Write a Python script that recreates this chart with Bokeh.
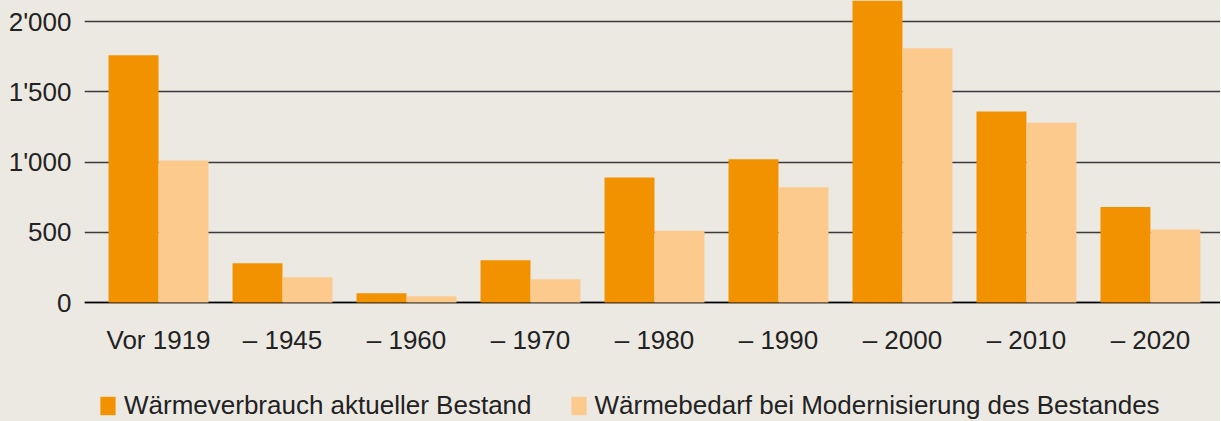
from bokeh.plotting import figure
from bokeh.models import FixedTicker, Legend, LegendItem, Span
from bokeh.layouts import column
from bokeh.embed import file_html
from bokeh.resources import INLINE

categories = ["Vor 1919", "– 1945", "– 1960", "– 1970", "– 1980", "– 1990", "– 2000", "– 2010", "– 2020"]
verbrauch = [1760, 280, 65, 300, 890, 1020, 2250, 1360, 680]
bedarf = [1010, 180, 45, 165, 510, 820, 1810, 1280, 520]
y_ticks = [0, 500, 1000, 1500, 2000]
y_tick_labels = ["0", "500", "1'000", "1'500", "2'000"]
series_names = ["Wärmeverbrauch aktueller Bestand", "Wärmebedarf bei Modernisierung des Bestandes"]

BG = "#ece9e2"
ORANGE = "#f39200"
LIGHT = "#fdca8d"
FONT = "Liberation Sans"

idx = list(range(len(categories)))
bw = 0.403

p = figure(width=1220, height=372, output_backend="svg", toolbar_location=None,
           x_range=(-0.597, 8.565), y_range=(-14.2, 2149.5),
           min_border_left=84, min_border_right=0, min_border_top=0, min_border_bottom=68)
p.background_fill_color = BG
p.border_fill_color = BG
p.outline_line_color = None

p.vbar(x=[i - bw / 2 for i in idx], top=verbrauch, width=bw, bottom=0,
       fill_color=ORANGE, line_color=None)
p.vbar(x=[i + bw / 2 for i in idx], top=bedarf, width=bw, bottom=0,
       fill_color=LIGHT, line_color=None)

p.xgrid.visible = False
p.ygrid.ticker = FixedTicker(ticks=y_ticks)
p.ygrid.grid_line_color = "#3a3a3a"
p.ygrid.grid_line_width = 1.3

zero = Span(location=0, dimension="width", line_color="#000000", line_width=1.5, level="underlay")
p.add_layout(zero)

p.yaxis.ticker = FixedTicker(ticks=y_ticks)
p.yaxis.major_label_overrides = {t: l for t, l in zip(y_ticks, y_tick_labels)}
p.xaxis.ticker = FixedTicker(ticks=idx)
p.xaxis.major_label_overrides = {i: c for i, c in zip(idx, categories)}
for ax in (p.xaxis, p.yaxis):
    ax.axis_line_color = None
    ax.major_tick_line_color = None
    ax.minor_tick_line_color = None
    ax.major_tick_out = 0
    ax.major_tick_in = 0
    ax.major_label_text_font = FONT
    ax.major_label_text_font_size = "26px"
    ax.major_label_text_color = "#222222"
p.yaxis.major_label_standoff = 13
p.xaxis.major_label_standoff = 20

# legend strip
q = figure(width=1220, height=49, output_backend="svg", toolbar_location=None,
           x_range=(0, 1), y_range=(0, 1),
           min_border_left=84, min_border_right=0, min_border_top=0, min_border_bottom=0)
q.background_fill_color = BG
q.border_fill_color = BG
q.outline_line_color = None
q.axis.visible = False
q.grid.visible = False
# zero-height proxy bars, used only to draw the legend swatches
l1 = q.vbar(x=[0.5], top=[0], bottom=0, width=0.1, fill_color=ORANGE, line_color=None)
l2 = q.vbar(x=[0.5], top=[0], bottom=0, width=0.1, fill_color=LIGHT, line_color=None)

legend = Legend(items=[LegendItem(label=series_names[0], renderers=[l1]),
                       LegendItem(label=series_names[1], renderers=[l2])],
                orientation="horizontal", location=(14, 0),
                glyph_width=19, glyph_height=23, label_standoff=7, spacing=37,
                padding=0, margin=0, border_line_color=None, background_fill_alpha=0,
                label_text_font=FONT, label_text_font_size="26px", label_text_color="#222222",
                label_height=23)
q.add_layout(legend, "center")

layout = column(p, q, spacing=0, styles={"background-color": BG})
open("out.html", "w").write(file_html(layout, INLINE))
